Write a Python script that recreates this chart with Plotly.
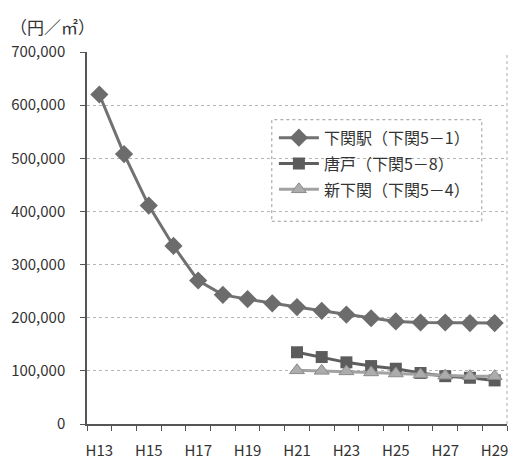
import plotly.graph_objects as go

years = ["H13", "H14", "H15", "H16", "H17", "H18", "H19", "H20", "H21",
         "H22", "H23", "H24", "H25", "H26", "H27", "H28", "H29"]

shimonoseki_eki = [620000, 508000, 411000, 335000, 270000, 243000, 235000, 227000,
                   220000, 213000, 206000, 199000, 193000, 191000, 191000, 190000, 190000]
karato = [None] * 8 + [135000, 126000, 116000, 109000, 104000, 96000, 90000, 87000, 82000]
shin_shimonoseki = [None] * 8 + [101000, 100000, 99000, 97000, 95000, 93000, 91000, 90000, 90000]

names = ["下関駅（下関5－1）", "唐戸（下関5－8）", "新下関（下関5－4）"]

y_ticks = [0, 100000, 200000, 300000, 400000, 500000, 600000, 700000]

xi = list(range(len(years)))

FONT = "Noto Sans CJK JP"

# page body has an 8px margin, so the figure is 8px smaller and offset
W, H = 510, 456

fig = go.Figure()
fig.add_trace(go.Scatter(x=xi, y=shimonoseki_eki, name=names[0], mode="lines+markers",
                         line=dict(color="#717171", width=3),
                         marker=dict(symbol="diamond", size=14, color="#6c6c6c"),
                         legendgroup="a"))
fig.add_trace(go.Scatter(x=xi, y=karato, name=names[1], mode="lines+markers",
                         line=dict(color="#5e5e5e", width=3),
                         marker=dict(symbol="square", size=12, color="#5c5c5c"),
                         legendgroup="b"))
fig.add_trace(go.Scatter(x=xi, y=shin_shimonoseki, name=names[2], mode="lines+markers",
                         line=dict(color="#a2a2a2", width=3),
                         marker=dict(symbol="triangle-up", size=13, color="#acacac",
                                     line=dict(color="#8a8a8a", width=1)),
                         legendgroup="c"))

fig.update_layout(
    width=W, height=H,
    margin=dict(l=79, r=11, t=44, b=40, autoexpand=False),
    paper_bgcolor="white", plot_bgcolor="white",
    font=dict(family=FONT, size=15, color="#333333"),
    title=dict(text="（円／㎡）", x=2 / W, xref="container", xanchor="left",
               y=1 - 20 / H, yref="container", yanchor="middle",
               font=dict(family=FONT, size=17, color="#333333")),
    showlegend=True,
    legend=dict(x=0.445, y=0.815, xanchor="left", yanchor="top",
                bgcolor="rgba(255,255,255,0)", borderwidth=0,
                font=dict(family=FONT, size=16, color="#333333"),
                itemwidth=40, tracegroupgap=2),
    shapes=[
        dict(type="rect", xref="paper", yref="paper", x0=0.44, x1=0.94,
             y0=0.545, y1=0.818, line=dict(color="#9a9a9a", width=1, dash="dot")),
        dict(type="line", xref="paper", yref="paper", x0=1, x1=1, y0=0, y1=1,
             line=dict(color="#aaaaaa", width=1, dash="dot")),
    ],
)

fig.update_xaxes(
    automargin=False,
    range=[-0.5, len(years) - 0.5],
    tickvals=xi[::2], ticktext=years[::2],
    ticks="", showgrid=False, zeroline=False,
    showline=True, linecolor="#555555", linewidth=1.5,
    ticklabelstandoff=12,
    tickfont=dict(family=FONT, size=15, color="#333333"),
    minor=dict(tickvals=[i - 0.5 for i in range(len(years) + 1)],
               ticks="outside", ticklen=5, tickcolor="#555555", showgrid=False),
)
fig.update_yaxes(
    automargin=False,
    range=[0, 700000], tickvals=y_ticks, tickformat=",",
    ticks="outside", ticklen=5, tickcolor="#555555",
    ticklabelstandoff=12,
    showgrid=True, gridcolor="#b5b5b5", griddash="dot", gridwidth=1,
    zeroline=False, showline=True, linecolor="#555555", linewidth=1.5,
    tickfont=dict(family=FONT, size=15, color="#333333"),
)

fig.write_html("out.html")
